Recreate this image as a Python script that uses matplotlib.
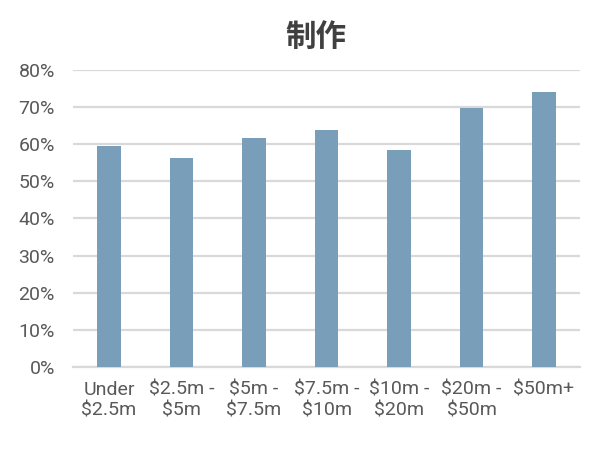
import matplotlib.pyplot as plt
from matplotlib.ticker import PercentFormatter

categories = ['Under\n$2.5m', '$2.5m -\n$5m', '$5m -\n$7.5m', '$7.5m -\n$10m',
              '$10m -\n$20m', '$20m -\n$50m', '$50m+']
values = [59.6, 56.3, 61.7, 63.8, 58.5, 69.7, 74.0]
title = '制作'

plt.rcParams['font.family'] = ['Roboto', 'Noto Sans CJK SC', 'DejaVu Sans']

fig = plt.figure(figsize=(6.07, 4.49), dpi=100)
ax = fig.add_axes([0.120, 0.183, 0.836, 0.661])

x = range(len(categories))
ax.bar(x, values, width=0.32, color='#789EBA', zorder=3)

ax.set_ylim(0, 80)
ax.set_xlim(-0.5, len(categories) - 0.5)
ax.set_yticks(range(0, 81, 10))
ax.yaxis.set_major_formatter(PercentFormatter(decimals=0))
ax.set_xticks(list(x))
ax.set_xticklabels(categories, linespacing=1.2)

ax.grid(axis='y', color='#d9d9d9', linewidth=1.6, zorder=0)
for s in ['top', 'right', 'left']:
    ax.spines[s].set_visible(False)
ax.spines['bottom'].set_color('#d9d9d9')
ax.spines['bottom'].set_linewidth(1.6)
ax.tick_params(axis='both', length=0, labelsize=14, labelcolor='#595959')
ax.tick_params(axis='y', pad=13)
ax.tick_params(axis='x', pad=10)

fig.text(0.52, 0.918, title, ha='center', va='center', fontsize=22,
         fontweight='bold', color='#404040', family=['Noto Sans CJK SC'])

fig.savefig('out.png', dpi=100)
